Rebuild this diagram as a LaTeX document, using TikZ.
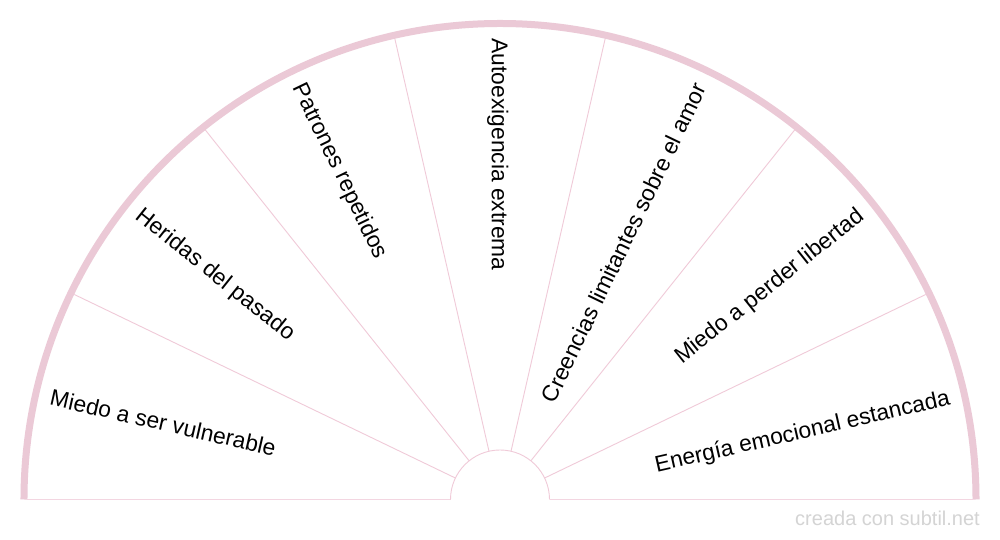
\documentclass[tikz,border=0pt]{standalone}
\usepackage{fontspec}
\setmainfont{Liberation Sans}
\definecolor{band}{HTML}{EBC9D6}
\definecolor{spoke}{HTML}{F0CAD8}
\definecolor{baseln}{HTML}{F3D6E1}
\definecolor{wm}{HTML}{D4D4D4}
\begin{document}
\begin{tikzpicture}[x=1pt,y=1pt,
  spokeline/.style={draw=spoke,line width=0.9pt},
  lbl/.style={font=\fontsize{22.8}{27}\selectfont,inner sep=0pt,text height=16.3pt,text depth=0pt,text=black}]
\useasboundingbox (-500,-40.5) rectangle (500,499.5);
\fill[white] (-500,-40.5) rectangle (500,499.5);
% outer band
\draw[band,line width=7pt] (476,0) arc[start angle=0,end angle=180,radius=476];
% baseline and inner arc
\draw[draw=baseln,line width=1pt] (-472.5,0) -- (-49.5,0);
\draw[draw=baseln,line width=1pt] (49.5,0) -- (472.5,0);
\draw[spokeline] (49.5,0) arc[start angle=0,end angle=180,radius=49.5];
% spokes
\foreach \a in {25.714,51.429,77.143,102.857,128.571,154.286}{
  \draw[spokeline] (\a:49.5) -- (\a:472.5);
}
% labels
\node[lbl,anchor=west,rotate=-12.857] (l1) at (167.143:461) {Miedo a ser vulnerable};
\node[lbl,anchor=west,rotate=-38.571] (l2) at (141.429:461) {Heridas del pasado};
\node[lbl,anchor=west,rotate=-64.286] (l3) at (115.714:461) {Patrones repetidos};
\node[lbl,anchor=west,rotate=-90] (l4) at (90:461) {Autoexigencia extrema};
\node[lbl,anchor=east,rotate=64.286] (l5) at (64.286:461) {Creencias limitantes sobre el amor};
\node[lbl,anchor=east,rotate=38.571] (l6) at (38.571:461) {Miedo a perder libertad};
\node[lbl,anchor=east,rotate=12.857] (l7) at (12.857:461) {Energía emocional estancada};
% watermark
\node[anchor=base east,inner sep=0pt,text=wm,font=\fontsize{20}{24}\selectfont] (wm) at (480,-26) {creada con subtil.net};
\end{tikzpicture}
\end{document}
